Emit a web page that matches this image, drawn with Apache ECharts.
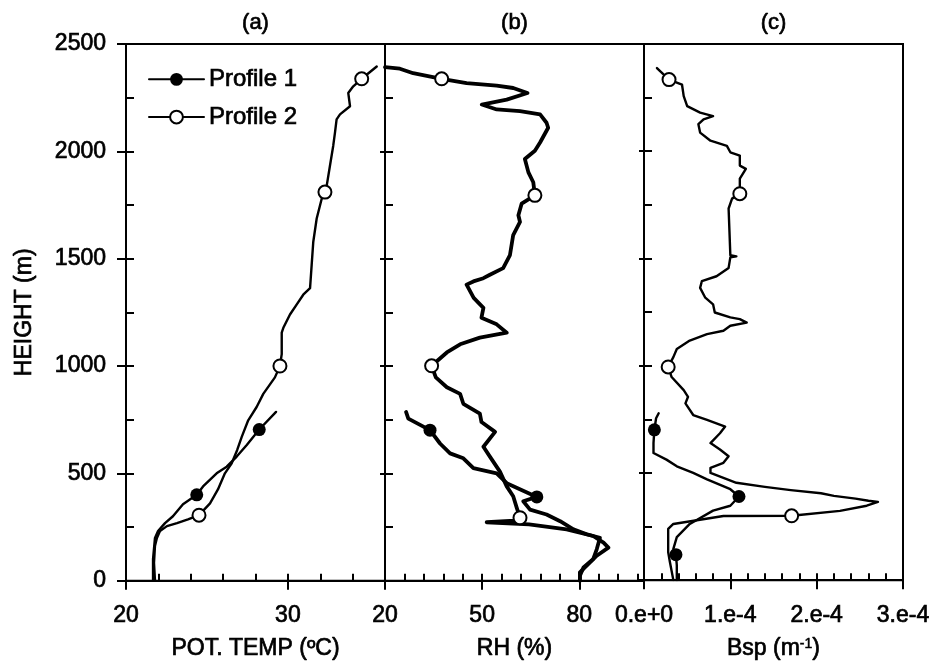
<!DOCTYPE html>
<html>
<head>
<meta charset="utf-8">
<script src="https://cdn.jsdelivr.net/npm/echarts@6/dist/echarts.min.js"></script>
<style>
html, body { margin: 0; padding: 0; background: #fff; }
#chart { width: 935px; height: 666px; }
</style>
</head>
<body>
<div id="chart"></div>
<script>
// ---- Panel (a): potential temperature (deg C) against height (m) ----
const tempP1Height = [0, 100, 199, 231, 268, 300, 356, 400, 439, 500, 531, 578, 632, 704, 786];
const tempP1 = [21.67, 21.67, 21.79, 21.98, 22.41, 22.90, 23.52, 24.37, 24.76, 25.60, 26.22, 26.84, 27.46, 28.23, 29.27];
const tempP1Marks = [400, 704];

const tempP2Height = [0, 83, 162, 199, 231, 254, 268, 285, 305, 360, 425, 500, 547, 609, 670, 747, 809, 870, 947,
  1000, 1055, 1155, 1178, 1240, 1286, 1332, 1363, 1471, 1579, 1687, 1779, 1810, 1840, 1933, 2025, 2087, 2149, 2172,
  2210, 2272, 2303, 2338, 2395];
const tempP2 = [21.79, 21.73, 21.79, 21.91, 22.10, 22.53, 23.15, 23.83, 24.51, 25.19, 25.68, 26.11, 26.53, 26.87, 27.15,
  27.55, 28.07, 28.48, 29.20, 29.51, 29.62, 29.62, 29.72, 30.13, 30.54, 30.95, 31.37, 31.47, 31.57, 31.78, 32.09, 32.29,
  32.40, 32.60, 32.80, 32.91, 33.01, 33.22, 33.84, 33.73, 34.04, 34.56, 35.49];
const tempP2Marks = [305, 1000, 1810, 2338];

// ---- Panel (b): relative humidity (%) ----
const rhP1Height = [0, 23, 61, 100, 146, 200, 216, 239, 277, 308, 331, 370, 390, 454, 500, 524, 570, 593, 639, 701, 755, 786];
const rhP1 = [80.2, 80.2, 81.3, 84.3, 85.4, 86.4, 82.3, 78.2, 74.1, 69.9, 64.8, 62.7, 66.9, 57.6, 54.5, 47.3, 44.2, 40.1,
  37.0, 33.9, 27.2, 26.5];
const rhP1Marks = [390, 701];

const rhP2Height = [0, 39, 85, 116, 154, 177, 208, 239, 262, 272, 280, 293, 339, 393, 439, 508, 578, 624, 693, 739, 778,
  824, 870, 901, 947, 1001, 1063, 1101, 1132, 1155, 1194, 1225, 1271, 1317, 1379, 1394, 1409, 1425, 1456, 1517, 1610,
  1671, 1702, 1756, 1795, 1856, 1902, 1964, 2003, 2041, 2110, 2133, 2172, 2187, 2195, 2218, 2241, 2272, 2295, 2306,
  2318, 2338, 2364, 2385, 2392];
const rhP2 = [80.2, 80.2, 83.3, 85.4, 89.0, 87.5, 84.3, 76.1, 64.5, 51.4, 60.0, 61.7, 60.7, 59.6, 57.6, 55.5, 52.4, 50.4,
  54.0, 49.8, 49.3, 44.2, 43.2, 39.1, 35.7, 34.4, 39.1, 43.2, 49.3, 57.6, 54.5, 49.8, 50.4, 47.4, 45.2, 47.3, 50.4, 52.4,
  56.5, 58.6, 59.6, 61.7, 61.2, 62.2, 66.3, 65.8, 64.3, 63.2, 66.3, 67.9, 70.4, 69.9, 67.9, 61.7, 54.5, 49.9, 57.6, 64.0,
  59.6, 54.5, 45.2, 37.5, 28.7, 24.6, 20.0];
const rhP2Marks = [293, 1001, 1795, 2338];

// ---- Panel (c): scattering coefficient Bsp, in units of 1e-4 m^-1 ----
const bspP1Height = [0, 69, 119, 146, 201, 262, 324, 347, 390, 424, 470, 500, 531, 562, 593, 639, 701, 755, 778];
const bspP1 = [0.38, 0.38, 0.37, 0.34, 0.38, 0.53, 0.80, 1.00, 1.10, 1.00, 0.73, 0.57, 0.38, 0.26, 0.11, 0.11, 0.12, 0.14, 0.17];
const bspP1Marks = [119, 390, 701];

const bspP2Height = [0, 85, 131, 239, 262, 299, 300, 323, 347, 365, 370, 380, 393, 405, 420, 435, 454, 500, 524, 547, 578,
  609, 639, 685, 716, 747, 770, 824, 855, 886, 947, 994, 1040, 1078, 1117, 1147, 1163, 1186, 1201, 1217, 1225, 1248, 1286,
  1317, 1363, 1394, 1417, 1456, 1505, 1510, 1515, 1625, 1733, 1779, 1802, 1872, 1918, 1933, 1980, 1995, 2025, 2049, 2087,
  2126, 2149, 2164, 2180, 2210, 2257, 2311, 2334, 2388];
const bspP2 = [0.34, 0.30, 0.28, 0.28, 0.34, 0.92, 1.71, 2.27, 2.58, 2.71, 2.60, 2.45, 2.20, 2.05, 1.70, 1.40, 1.07, 0.77,
  0.77, 0.92, 0.98, 0.88, 0.77, 0.88, 0.94, 0.73, 0.57, 0.48, 0.51, 0.46, 0.32, 0.28, 0.34, 0.38, 0.53, 0.73, 0.92, 1.00,
  1.19, 1.11, 1.00, 0.82, 0.80, 0.71, 0.65, 0.67, 0.84, 0.98, 1.00, 1.07, 1.00, 0.99, 0.98, 1.02, 1.11, 1.11, 1.18, 1.11,
  1.11, 1.00, 0.96, 0.77, 0.65, 0.63, 0.69, 0.80, 0.65, 0.50, 0.46, 0.44, 0.29, 0.15];
const bspP2Marks = [300, 994, 1802, 2334];
const BSP_UNIT = 1e-4;

// ---- Axis ticks and labels ----
const tempLabels = [20, 30];
const tempMinor = [20, 22, 24, 26, 28, 30, 32, 34];
const rhLabels = [20, 50, 80];
const rhMinor = [20, 26, 32, 38, 44, 50, 56, 62, 68, 74, 80, 86, 92, 98];
const bspLabels = [0, 1e-4, 2e-4, 3e-4];
const bspMinor = [0, 0.2e-4, 0.4e-4, 0.6e-4, 0.8e-4, 1e-4, 1.2e-4, 1.4e-4, 1.6e-4, 1.8e-4, 2e-4,
  2.2e-4, 2.4e-4, 2.6e-4, 2.8e-4];
const panelTitles = ['(a)', '(b)', '(c)'];

const FONT = '"Liberation Sans", Arial, Helvetica, sans-serif';
const BLACK = '#000';
const FS = 23;
// slight outline gives the heavier print weight of the lettering
const INK = { textBorderColor: BLACK, textBorderWidth: 0.7 };

const gridLeft = [126, 385, 644];
const gridTop = 44, gridW = 259, gridH = 541;

const panels = [
  { min: 20, max: 36, labels: tempLabels, minor: tempMinor, name: 'POT. TEMP (\u00baC)',
    fmt: v => String(v) },
  { min: 20, max: 100, labels: rhLabels, minor: rhMinor, name: 'RH (%)',
    fmt: v => String(v) },
  { min: 0, max: 3e-4, labels: bspLabels, minor: bspMinor, name: 'Bsp (m{sup|-1})',
    fmt: v => (Math.abs(v) < 1e-12 ? '0.e+0' : Math.round(v * 1e4) + '.e-4') }
];

const grids = gridLeft.map(l => ({
  left: l, top: gridTop, width: gridW, height: gridH,
  show: true, borderColor: BLACK, borderWidth: 2, backgroundColor: 'transparent'
}));

const xAxes = [];
const yAxes = [];
panels.forEach((p, i) => {
  // labelled axis with the long outward ticks
  xAxes.push({
    type: 'value', gridIndex: i, min: p.min, max: p.max, position: 'bottom',
    axisLine: { show: true, lineStyle: { color: BLACK, width: 2 } },
    axisTick: { show: true, inside: false, length: 9, customValues: p.labels,
      lineStyle: { color: BLACK, width: 2 } },
    axisLabel: Object.assign({ show: true, customValues: p.labels, formatter: p.fmt, margin: 24,
      fontSize: FS, fontFamily: FONT, color: BLACK }, INK),
    splitLine: { show: false },
    name: p.name, nameLocation: 'middle', nameGap: 57,
    nameTextStyle: Object.assign({ fontSize: FS, fontFamily: FONT, color: BLACK,
      rich: { sup: { fontSize: 14, fontFamily: FONT, color: BLACK, verticalAlign: 'top',
        padding: [0, 0, 10, 0], textBorderColor: BLACK, textBorderWidth: 0.5 } } }, INK)
  });
  // short inward ticks
  xAxes.push({
    type: 'value', gridIndex: i, min: p.min, max: p.max, position: 'bottom',
    axisLine: { show: false },
    axisTick: { show: true, inside: true, length: 7, customValues: p.minor,
      lineStyle: { color: BLACK, width: 2 } },
    axisLabel: { show: false },
    splitLine: { show: false }
  });

  yAxes.push({
    type: 'value', gridIndex: i, min: 0, max: 2500, interval: 500, position: 'left',
    axisLine: { show: true, lineStyle: { color: BLACK, width: 2 } },
    axisTick: { show: true, inside: false, length: i === 0 ? 9 : 5, lineStyle: { color: BLACK, width: 2 } },
    axisLabel: Object.assign({ show: i === 0, margin: 20, fontSize: FS, fontFamily: FONT, color: BLACK,
      formatter: v => String(v) }, INK),
    splitLine: { show: false },
    name: i === 0 ? 'HEIGHT (m)' : '', nameLocation: 'middle', nameRotate: 90, nameGap: 90,
    nameTextStyle: Object.assign({ fontSize: FS, fontFamily: FONT, color: BLACK }, INK)
  });
  yAxes.push({
    type: 'value', gridIndex: i, min: 0, max: 2500, interval: 250, position: 'left',
    axisLine: { show: false },
    axisTick: { show: true, inside: true, length: 8, lineStyle: { color: BLACK, width: 2 } },
    axisLabel: { show: false },
    splitLine: { show: false }
  });
});

function profile(name, panel, xs, hs, marks, filled, width, scale) {
  const k = scale || 1;
  return {
    type: 'line', name: name, xAxisIndex: panel * 2, yAxisIndex: panel * 2,
    data: xs.map((x, i) => [x * k, hs[i]]),
    symbol: filled ? 'circle' : 'emptyCircle',
    symbolSize: v => (marks.indexOf(v[1]) >= 0 ? 13 : 0),
    showAllSymbol: true,
    lineStyle: { color: BLACK, width: width, join: 'round', cap: 'round' },
    itemStyle: { color: BLACK, borderColor: BLACK, borderWidth: filled ? 0 : 2 },
    emphasis: { disabled: true },
    silent: true,
    z: filled ? 4 : 3
  };
}

const series = [
  profile('Profile 1', 0, tempP1, tempP1Height, tempP1Marks, true, 2.4),
  profile('Profile 2', 0, tempP2, tempP2Height, tempP2Marks, false, 2.4),
  profile('Profile 1', 1, rhP1, rhP1Height, rhP1Marks, true, 3.8),
  profile('Profile 2', 1, rhP2, rhP2Height, rhP2Marks, false, 3.8),
  profile('Profile 1', 2, bspP1, bspP1Height, bspP1Marks, true, 2.4, BSP_UNIT),
  profile('Profile 2', 2, bspP2, bspP2Height, bspP2Marks, false, 2.4, BSP_UNIT)
];

const titles = panelTitles.map((t, i) => ({
  type: 'text', x: gridLeft[i] + gridW / 2, y: 23, silent: true,
  style: { text: t, fontSize: 22, fontFamily: FONT, fill: BLACK, stroke: BLACK, lineWidth: 0.7,
    textAlign: 'center', textVerticalAlign: 'middle' }
}));

const chart = echarts.init(document.getElementById('chart'), null, { renderer: 'canvas' });
chart.setOption({
  backgroundColor: '#fff',
  animation: false,
  grid: grids,
  xAxis: xAxes,
  yAxis: yAxes,
  legend: {
    data: ['Profile 1', 'Profile 2'], orient: 'vertical', left: 143, top: 62,
    itemWidth: 55, itemHeight: 16, itemGap: 13, selectedMode: false,
    textStyle: Object.assign({ fontSize: 24, fontFamily: FONT, color: BLACK }, INK)
  },
  graphic: titles,
  series: series
});
</script>
</body>
</html>
